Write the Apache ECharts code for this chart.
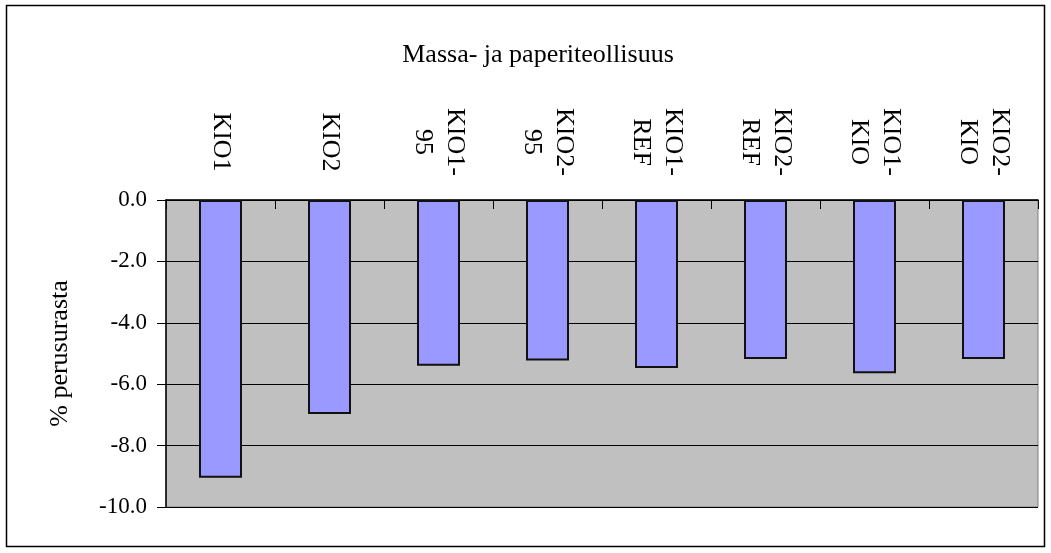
<!DOCTYPE html>
<html>
<head>
<meta charset="utf-8">
<title>Massa- ja paperiteollisuus</title>
<script src="https://cdn.jsdelivr.net/npm/echarts@6/dist/echarts.min.js"></script>
<style>
  html, body { margin: 0; padding: 0; background: #ffffff; }
  #chart { width: 1051px; height: 553px; }
</style>
</head>
<body>
<div id="chart"></div>
<script>
// Scenario categories (a hyphen marks where the label wraps)
const categories = ['KIO1', 'KIO2', 'KIO1-95', 'KIO2-95', 'KIO1-REF', 'KIO2-REF', 'KIO1-KIO', 'KIO2-KIO'];
// Change relative to the baseline, %
const values = [-9.05, -6.97, -5.40, -5.23, -5.47, -5.18, -5.64, -5.18];
// Value axis range and step
const yMin = -10;
const yMax = 0;
const yStep = 2;

const SERIF = "'Liberation Serif', 'Times New Roman', serif";

const chart = echarts.init(document.getElementById('chart'), null, { renderer: 'canvas' });

chart.setOption({
  backgroundColor: '#ffffff',
  animation: false,
  title: {
    text: 'Massa- ja paperiteollisuus',
    left: 533,
    top: 37,
    textAlign: 'center',
    textStyle: { fontFamily: SERIF, fontSize: 26, fontWeight: 'normal', color: '#000' }
  },
  graphic: [{
    type: 'rect',
    shape: { x: 6.5, y: 5.5, width: 1038, height: 541 },
    style: { fill: null, stroke: '#000', lineWidth: 1.5 },
    z: 100
  }],
  grid: {
    left: 166,
    right: 13,
    top: 200,
    bottom: 46,
    show: true,
    backgroundColor: '#c0c0c0',
    borderColor: '#808080',
    borderWidth: 1
  },
  xAxis: {
    type: 'category',
    position: 'top',
    data: categories,
    boundaryGap: true,
    axisLine: { show: true, onZero: false, lineStyle: { color: '#000', width: 1.5 } },
    axisTick: { show: true, inside: true, length: 9, lineStyle: { color: '#000' } },
    axisLabel: {
      interval: 0,
      rotate: 90,
      align: 'center',
      verticalAlign: 'middle',
      margin: 58,
      fontFamily: SERIF,
      fontSize: 26,
      lineHeight: 32,
      color: '#000',
      formatter: v => v.replace('-', '-\n')
    },
    splitLine: { show: false }
  },
  yAxis: {
    type: 'value',
    min: yMin,
    max: yMax,
    interval: yStep,
    name: '% perusurasta',
    nameLocation: 'middle',
    nameGap: 93,
    nameRotate: 90,
    nameTextStyle: { fontFamily: SERIF, fontSize: 26, color: '#000' },
    axisLine: { show: true, lineStyle: { color: '#000', width: 1.5 } },
    axisTick: { show: true, inside: false, length: 9, lineStyle: { color: '#000' } },
    axisLabel: {
      margin: 19,
      fontFamily: SERIF,
      fontSize: 23,
      color: '#000',
      formatter: v => v.toFixed(1)
    },
    splitLine: { show: true, lineStyle: { color: '#000', width: 1 } }
  },
  series: [{
    type: 'bar',
    data: values,
    barWidth: 43,
    itemStyle: { color: '#9999ff', borderColor: '#111', borderWidth: 2 }
  }]
});
</script>
</body>
</html>
